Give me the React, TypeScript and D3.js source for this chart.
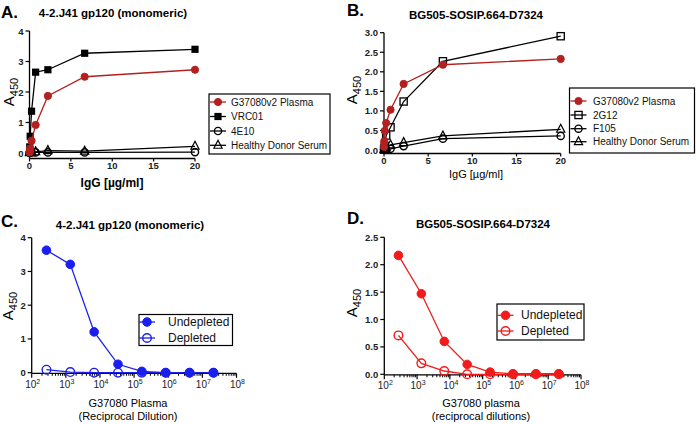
import React from "react";
import * as d3 from "d3";

// ---------- DATA ----------
const igG = [20, 6.667, 2.222, 0.741, 0.247, 0.082, 0.027, 0.009];

const aPlasma = [2.73, 2.5, 1.87, 0.92, 0.4, 0.15, 0.06, 0.02];
const aVRC01 = [3.4, 3.27, 2.73, 2.65, 1.37, 0.55, 0.2, 0.07];
const a4E10 = [0.03, 0.02, 0.02, 0.02, 0.02, 0.01, 0.01, 0.01];
const aHealthy = [0.22, 0.06, 0.08, 0.04, 0.03, 0.02, 0.02, 0.01];

const bPlasma = [2.33, 2.18, 1.69, 1.03, 0.69, 0.49, 0.22, 0.08];
const b2G12 = [2.91, 2.27, 1.24, 0.58, 0.37, 0.1, 0.03, 0.01];
const bF105 = [0.36, 0.29, 0.1, 0.03, 0.02, 0.01, 0.01, 0.01];
const bHealthy = [0.53, 0.36, 0.19, 0.13, 0.05, 0.03, 0.02, 0.01];

const dilutions = [270, 1350, 6750, 33750, 168750, 843750, 4218750, 21093750];
const cUndepleted = [3.63, 3.21, 1.21, 0.25, 0.04, 0.0, 0.0, 0.0];
const cDepleted = [0.09, 0.02, 0.0, 0.0, 0.0, 0.0, 0.0, 0.0];
const dUndepleted = [2.17, 1.47, 0.6, 0.18, 0.04, 0.01, 0.01, 0.01];
const dDepleted = [0.71, 0.2, 0.06, 0.0, 0.0, 0.0, 0.0, 0.0];

const linTicksX = [0, 5, 10, 15, 20];
const aTicksY = [0, 1, 2, 3, 4];
const bTicksY = [0, 0.5, 1, 1.5, 2, 2.5, 3];
const cTicksY = [0, 1, 2, 3, 4];
const dTicksY = [0, 0.5, 1, 1.5, 2, 2.5];
const logExps = [2, 3, 4, 5, 6, 7, 8];

const aNames = ["G37080v2 Plasma", "VRC01", "4E10", "Healthy Donor Serum"];
const bNames = ["G37080v2 Plasma", "2G12", "F105", "Healthy Donor Serum"];
const cdNames = ["Undepleted", "Depleted"];

const DARKRED = "#b3201f";
const BLUE = "#1a1ff0";
const RED = "#f21b1b";
const FONT = "'Liberation Sans', Arial, sans-serif";

type Shape = "fcircle" | "fsquare" | "ocircle" | "osquare" | "otriangle";

function Marker({ shape, x, y, color, r }: { shape: Shape; x: number; y: number; color: string; r: number }) {
  if (shape === "fcircle") return <circle cx={x} cy={y} r={r} fill={color} stroke={color} strokeWidth={1} />;
  if (shape === "ocircle") return <circle cx={x} cy={y} r={r} fill="none" stroke={color} strokeWidth={1.4} />;
  if (shape === "fsquare") return <rect x={x - r} y={y - r} width={2 * r} height={2 * r} fill={color} />;
  if (shape === "osquare")
    return <rect x={x - r} y={y - r} width={2 * r} height={2 * r} fill="none" stroke={color} strokeWidth={1.3} />;
  const h = r * 1.1;
  return (
    <path
      d={`M${x},${y - h - 1}L${x + r + 0.5},${y + h * 0.75}L${x - r - 0.5},${y + h * 0.75}Z`}
      fill="none"
      stroke={color}
      strokeWidth={1.2}
    />
  );
}

type Series = { name: string; values: number[]; shape: Shape; color: string };

type PanelProps = {
  label: string;
  labelPos: [number, number];
  title: string;
  titlePos: [number, number];
  xs: number[];
  series: Series[];
  log: boolean;
  xRange: [number, number];
  xDomain: [number, number];
  yDomain: [number, number];
  yRange: [number, number];
  xAxisY: number;
  xTickOff: number;
  yTicks: number[];
  yFmt: (v: number) => string;
  yLabelPos: [number, number];
  xLabel: string[];
  xLabelPos: [number, number];
  xLabelBold: boolean;
  legendBox: [number, number, number, number];
  legendRows: number[];
  legendMarkerX: number;
  legendTextX: number;
  legendFont: number;
  r: number;
  lineW: number;
};

function Panel(p: PanelProps) {
  const x = p.log
    ? d3.scaleLog().domain(p.xDomain).range(p.xRange)
    : d3.scaleLinear().domain(p.xDomain).range(p.xRange);
  const y = d3.scaleLinear().domain(p.yDomain).range(p.yRange);
  const x0 = p.xRange[0];
  const line = d3
    .line<number>()
    .x((_, i) => x(p.xs[i]))
    .y((v) => y(v));
  const minor: number[] = [];
  if (p.log) {
    for (let e = 2; e < 8; e++) for (let k = 2; k <= 9; k++) minor.push(k * Math.pow(10, e));
  }
  return (
    <g fontFamily={FONT}>
      <text x={p.labelPos[0]} y={p.labelPos[1]} fontSize={17} fontWeight="bold">
        {p.label}
      </text>
      <text x={p.titlePos[0]} y={p.titlePos[1]} fontSize={11.5} fontWeight="bold" textAnchor="middle">
        {p.title}
      </text>
      {/* axes */}
      <line x1={x0} x2={x0} y1={y(p.yDomain[1])} y2={p.xAxisY} stroke="#000" strokeWidth={1.3} />
      <line x1={x0} x2={p.xRange[1]} y1={p.xAxisY} y2={p.xAxisY} stroke="#000" strokeWidth={1.3} />
      {p.yTicks.map((t) => (
        <g key={"y" + t}>
          <line x1={x0 - 4} x2={x0} y1={y(t)} y2={y(t)} stroke="#000" strokeWidth={1.2} />
          <text x={x0 - 6} y={y(t) + 3.5} fontSize={9.5} fontWeight="bold" textAnchor="end" fill="#222">
            {p.yFmt(t)}
          </text>
        </g>
      ))}
      {!p.log &&
        linTicksX.map((t) => (
          <g key={"x" + t}>
            <line x1={x(t)} x2={x(t)} y1={p.xAxisY} y2={p.xAxisY + 3} stroke="#000" strokeWidth={1.2} />
            <text x={x(t)} y={p.xAxisY + p.xTickOff} fontSize={9.5} fontWeight="bold" textAnchor="middle" fill="#222">
              {t}
            </text>
          </g>
        ))}
      {p.log &&
        minor.map((t) => (
          <line key={"m" + t} x1={x(t)} x2={x(t)} y1={p.xAxisY} y2={p.xAxisY + 2.5} stroke="#000" strokeWidth={1} />
        ))}
      {p.log &&
        logExps.map((e) => (
          <g key={"e" + e}>
            <line
              x1={x(Math.pow(10, e))}
              x2={x(Math.pow(10, e))}
              y1={p.xAxisY}
              y2={p.xAxisY + 4.5}
              stroke="#000"
              strokeWidth={1.2}
            />
            <text x={x(Math.pow(10, e)) + 1} y={p.xAxisY + p.xTickOff} fontSize={10} textAnchor="middle" fill="#222">
              10
              <tspan fontSize={7} dy={-4}>
                {e}
              </tspan>
            </text>
          </g>
        ))}
      {/* y label */}
      <text
        transform={`translate(${p.yLabelPos[0]},${p.yLabelPos[1]}) rotate(-90)`}
        fontSize={15}
        textAnchor="middle"
      >
        A<tspan fontSize={11} dy={4}>450</tspan>
      </text>
      {p.xLabel.map((s, i) => (
        <text
          key={s}
          x={p.xLabelPos[0]}
          y={p.xLabelPos[1] + i * 13}
          fontSize={p.xLabelBold ? 12 : 11}
          fontWeight={p.xLabelBold ? "bold" : "normal"}
          textAnchor="middle"
        >
          {s}
        </text>
      ))}
      {/* series (draw last-first so first on top) */}
      {[...p.series].reverse().map((s) => (
        <g key={s.name}>
          <path d={line(s.values) || ""} fill="none" stroke={s.color} strokeWidth={p.lineW} />
          {s.values.map((v, i) => (
            <Marker key={i} shape={s.shape} x={x(p.xs[i])} y={y(v)} color={s.color} r={p.r} />
          ))}
        </g>
      ))}
      {/* legend */}
      <rect
        x={p.legendBox[0]}
        y={p.legendBox[1]}
        width={p.legendBox[2]}
        height={p.legendBox[3]}
        fill="#fff"
        stroke="#000"
        strokeWidth={1.2}
      />
      {p.series.map((s, i) => (
        <g key={"l" + s.name}>
          <line
            x1={p.legendMarkerX - 8}
            x2={p.legendMarkerX + 8}
            y1={p.legendRows[i]}
            y2={p.legendRows[i]}
            stroke={s.color}
            strokeWidth={p.lineW}
          />
          <Marker shape={s.shape} x={p.legendMarkerX} y={p.legendRows[i]} color={s.color} r={p.r} />
          <text x={p.legendTextX} y={p.legendRows[i] + 3.6} fontSize={p.legendFont} fill="#111">
            {s.name}
          </text>
        </g>
      ))}
    </g>
  );
}

export default function App() {
  const seriesA: Series[] = [
    { name: aNames[0], values: aPlasma, shape: "fcircle", color: DARKRED },
    { name: aNames[1], values: aVRC01, shape: "fsquare", color: "#000" },
    { name: aNames[2], values: a4E10, shape: "ocircle", color: "#000" },
    { name: aNames[3], values: aHealthy, shape: "otriangle", color: "#000" },
  ];
  const seriesB: Series[] = [
    { name: bNames[0], values: bPlasma, shape: "fcircle", color: DARKRED },
    { name: bNames[1], values: b2G12, shape: "osquare", color: "#000" },
    { name: bNames[2], values: bF105, shape: "ocircle", color: "#000" },
    { name: bNames[3], values: bHealthy, shape: "otriangle", color: "#000" },
  ];
  const seriesC: Series[] = [
    { name: cdNames[0], values: cUndepleted, shape: "fcircle", color: BLUE },
    { name: cdNames[1], values: cDepleted, shape: "ocircle", color: BLUE },
  ];
  const seriesD: Series[] = [
    { name: cdNames[0], values: dUndepleted, shape: "fcircle", color: RED },
    { name: cdNames[1], values: dDepleted, shape: "ocircle", color: RED },
  ];
  const f0 = (v: number) => String(v);
  const f1 = d3.format(".1f");
  return (
    <svg width={696} height={424} style={{ position: "absolute", left: 0, top: 0, background: "#fff" }}>
      <rect width={696} height={424} fill="#fff" />
      <Panel
        label="A."
        labelPos={[1, 18]}
        title="4-2.J41 gp120 (monomeric)"
        titlePos={[113, 17]}
        xs={igG}
        series={seriesA}
        log={false}
        xRange={[29.5, 195]}
        xDomain={[0, 20]}
        yDomain={[0, 4]}
        yRange={[153, 31]}
        xAxisY={158.5}
        xTickOff={10.5}
        yTicks={aTicksY}
        yFmt={f0}
        yLabelPos={[14, 92]}
        xLabel={["IgG [µg/ml]"]}
        xLabelPos={[112, 187]}
        xLabelBold={true}
        legendBox={[209, 94, 121, 60]}
        legendRows={[102, 116.5, 131, 145.3]}
        legendMarkerX={218}
        legendTextX={231}
        legendFont={10}
        r={3.6}
        lineW={1.3}
      />
      <Panel
        label="B."
        labelPos={[347, 16]}
        title="BG505-SOSIP.664-D7324"
        titlePos={[476, 19]}
        xs={igG}
        series={seriesB}
        log={false}
        xRange={[384, 560.7]}
        xDomain={[0, 20]}
        yDomain={[0, 3]}
        yRange={[150, 32.7]}
        xAxisY={153.5}
        xTickOff={10}
        yTicks={bTicksY}
        yFmt={f1}
        yLabelPos={[357, 90]}
        xLabel={["IgG [µg/ml]"]}
        xLabelPos={[476, 178]}
        xLabelBold={false}
        legendBox={[569.5, 88, 125, 65]}
        legendRows={[101, 115, 128.7, 141.7]}
        legendMarkerX={578.5}
        legendTextX={593}
        legendFont={10}
        r={3.6}
        lineW={1.3}
      />
      <Panel
        label="C."
        labelPos={[1, 227]}
        title="4-2.J41 gp120 (monomeric)"
        titlePos={[130, 229]}
        xs={dilutions}
        series={seriesC}
        log={true}
        xRange={[31.7, 236.5]}
        xDomain={[1e2, 1e8]}
        yDomain={[0, 4]}
        yRange={[372.7, 237.7]}
        xAxisY={373.3}
        xTickOff={14.5}
        yTicks={cTicksY}
        yFmt={f0}
        yLabelPos={[13, 306]}
        xLabel={["G37080 Plasma", "(Reciprocal Dilution)"]}
        xLabelPos={[128, 407]}
        xLabelBold={false}
        legendBox={[139, 314.5, 93.5, 31]}
        legendRows={[322, 338]}
        legendMarkerX={147}
        legendTextX={168}
        legendFont={12}
        r={4.3}
        lineW={1.3}
      />
      <Panel
        label="D."
        labelPos={[347, 224]}
        title="BG505-SOSIP.664-D7324"
        titlePos={[483, 228]}
        xs={dilutions}
        series={seriesD}
        log={true}
        xRange={[384.3, 581]}
        xDomain={[1e2, 1e8]}
        yDomain={[0, 2.5]}
        yRange={[374.3, 237.3]}
        xAxisY={374.8}
        xTickOff={14}
        yTicks={dTicksY}
        yFmt={f1}
        yLabelPos={[357, 303]}
        xLabel={["G37080 plasma", "(reciprocal dilutions)"]}
        xLabelPos={[481, 407]}
        xLabelBold={false}
        legendBox={[497, 304, 87, 36]}
        legendRows={[315.3, 331]}
        legendMarkerX={505.5}
        legendTextX={521}
        legendFont={12}
        r={4.3}
        lineW={1.3}
      />
    </svg>
  );
}
